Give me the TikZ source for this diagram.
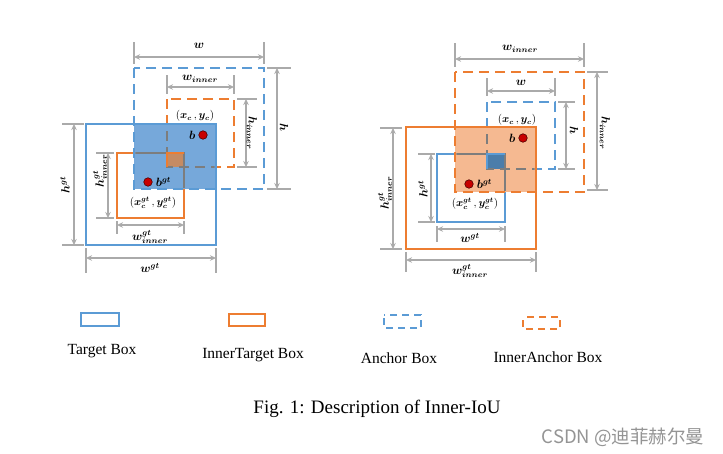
\documentclass[tikz,border=0pt]{standalone}
\usepackage{fontspec}
\setmainfont{Liberation Serif}
\newfontfamily\cjk{Noto Sans CJK SC}
\usepackage{bm}
\usetikzlibrary{arrows.meta,positioning}

\definecolor{boxblue}{RGB}{91,155,213}
\definecolor{boxorange}{RGB}{237,125,49}
\definecolor{dimgray}{RGB}{170,170,170}
\definecolor{linegray}{RGB}{125,125,125}
\definecolor{blueshade}{RGB}{118,168,218}
\definecolor{orangeshade}{RGB}{245,185,145}
\definecolor{smallorange}{RGB}{197,139,99}
\definecolor{smallblue}{RGB}{75,125,170}
\definecolor{dotred}{RGB}{200,0,0}

\begin{document}
\begin{tikzpicture}[
		x=1pt, y=-1pt,
		target/.style={draw=boxblue, line width=2.5pt},
		anchorbox/.style={draw=boxblue, line width=2.5pt, dash pattern=on 10pt off 6pt},
		innertarget/.style={draw=boxorange, line width=2.5pt},
		inneranchor/.style={draw=boxorange, line width=2.5pt, dash pattern=on 10pt off 6pt},
		tick/.style={draw=dimgray, line width=2.8pt},
		dim/.style={draw=dimgray, line width=1.6pt, {Stealth[length=6pt,width=5.5pt]}-{Stealth[length=6pt,width=5.5pt]}},
		lbl/.style={font=\fontsize{11.5}{13}\selectfont, inner sep=0pt},
		ctr/.style={font=\fontsize{10.5}{12}\selectfont, inner sep=0pt},
		dot/.style={circle, fill=dotred, draw=black!60!dotred, line width=0.6pt, minimum size=8.5pt, inner sep=0pt},
		legend/.style={font=\fontsize{15.5}{18}\selectfont, inner sep=0pt}
	]
	\useasboundingbox (0,0) rectangle (723,453);

	% Left: boxes
	\draw[innertarget] (117,153) rectangle (184,218);
	\draw[inneranchor] (167,99) rectangle (234,167);
	\fill[blueshade] (134,124) rectangle (216,189);
	\fill[smallorange] (167,153) rectangle (184,167);
	\draw[target] (86,124) rectangle (216,245);
	\draw[anchorbox] (134,68) rectangle (264,189);
	\begin{scope}
		\clip (135.3,125.3) rectangle (214.7,187.7);
		\draw[innertarget, draw=linegray] (117,153) rectangle (184,218);
		\draw[inneranchor, draw=linegray] (167,99) rectangle (234,167);
	\end{scope}
	\draw[innertarget] (167,167) -- (167,153) -- (184,153);

	% Right: boxes
	\draw[target] (437,154) rectangle (505,222);
	\draw[anchorbox] (487,102) rectangle (555,169);
	\fill[orangeshade] (455,127) rectangle (536,192);
	\fill[smallblue] (487,154) rectangle (505,169);
	\draw[innertarget] (406,127) rectangle (536,249);
	\draw[inneranchor] (455,72) rectangle (584,192);
	\begin{scope}
		\clip (456.3,128.3) rectangle (534.7,190.7);
		\draw[target, draw=linegray] (437,154) rectangle (505,222);
		\draw[anchorbox, draw=linegray] (487,102) rectangle (555,169);
	\end{scope}
	\draw[target] (487,169) -- (487,154) -- (505,154);

	% Left: dimensions
	\coordinate (wA) at (134,57); \coordinate (wB) at (264,57);
	\coordinate (wiA) at (167,87); \coordinate (wiB) at (234,87);
	\coordinate (hA) at (277,68); \coordinate (hB) at (277,189);
	\coordinate (hiA) at (246,99); \coordinate (hiB) at (246,167);
	\coordinate (hgA) at (74,124); \coordinate (hgB) at (74,245);
	\coordinate (hgiA) at (108,153); \coordinate (hgiB) at (108,218);
	\coordinate (wgiA) at (117,225); \coordinate (wgiB) at (184,225);
	\coordinate (wgA) at (86,258); \coordinate (wgB) at (216,258);
	\draw[tick] (134,42) -- (134,64) (264,42) -- (264,64);
	\draw[tick] (167,75) -- (167,94) (234,75) -- (234,94);
	\draw[tick] (267,68) -- (291,68) (267,189) -- (291,189);
	\draw[tick] (237,99) -- (257,99) (237,167) -- (257,167);
	\draw[tick] (62,124) -- (84,124) (62,245) -- (84,245);
	\draw[tick] (96,153) -- (114,153) (96,218) -- (114,218);
	\draw[tick] (117,221) -- (117,234) (184,221) -- (184,234);
	\draw[tick] (86,248) -- (86,273) (216,248) -- (216,273);
	\draw[dim] (wA) -- (wB);
	\draw[dim] (wiA) -- (wiB);
	\draw[dim] (hA) -- (hB);
	\draw[dim] (hiA) -- (hiB);
	\draw[dim] (hgA) -- (hgB);
	\draw[dim] (hgiA) -- (hgiB);
	\draw[dim] (wgiA) -- (wgiB);
	\draw[dim] (wgA) -- (wgB);

	% Right: dimensions
	\coordinate (rwiA) at (455,59); \coordinate (rwiB) at (584,59);
	\coordinate (rwA) at (487,91); \coordinate (rwB) at (555,91);
	\coordinate (rhA) at (566,102); \coordinate (rhB) at (566,169);
	\coordinate (rhiA) at (597,72); \coordinate (rhiB) at (597,190);
	\coordinate (rhgiA) at (393,128); \coordinate (rhgiB) at (393,249);
	\coordinate (rhgA) at (431,154); \coordinate (rhgB) at (431,222);
	\coordinate (rwgA) at (437,229); \coordinate (rwgB) at (505,229);
	\coordinate (rwgiA) at (406,260); \coordinate (rwgiB) at (536,260);
	\draw[tick] (455,43) -- (455,67) (584,43) -- (584,67);
	\draw[tick] (487,78) -- (487,96) (555,78) -- (555,96);
	\draw[tick] (558,102) -- (575,102) (558,169) -- (575,169);
	\draw[tick] (587,72) -- (608,72) (587,190) -- (608,190);
	\draw[tick] (380,128) -- (402,128) (380,249) -- (402,249);
	\draw[tick] (418,154) -- (435,154) (418,222) -- (435,222);
	\draw[tick] (437,226) -- (437,242) (505,226) -- (505,242);
	\draw[tick] (406,252) -- (406,272) (536,252) -- (536,272);
	\draw[dim] (rwiA) -- (rwiB);
	\draw[dim] (rwA) -- (rwB);
	\draw[dim] (rhA) -- (rhB);
	\draw[dim] (rhiA) -- (rhiB);
	\draw[dim] (rhgiA) -- (rhgiB);
	\draw[dim] (rhgA) -- (rhgB);
	\draw[dim] (rwgA) -- (rwgB);
	\draw[dim] (rwgiA) -- (rwgiB);

	% Left: labels
	\node[lbl] (lw) at (199,46) {$\bm{w}$};
	\node[lbl] (lwi) at (200,79) {$\bm{w}_{\bm{inner}}$};
	\node[lbl, rotate=-90] (lh) at (284,128) {$\bm{h}$};
	\node[lbl, rotate=-90] (lhi) at (252,133) {$\bm{h}_{\bm{inner}}$};
	\node[lbl, rotate=90] (lhg) at (65,185) {$\bm{h}^{\bm{gt}}$};
	\node[lbl, rotate=90] (lhgi) at (100,171) {$\bm{h}^{\bm{gt}}_{\bm{inner}}$};
	\node[lbl] (lwgi) at (150,237) {$\bm{w}^{\bm{gt}}_{\bm{inner}}$};
	\node[lbl] (lwg) at (150,268) {$\bm{w}^{\bm{gt}}$};
	\node[ctr] (lc) at (195,116) {$(\bm{x_c}\,,\bm{y_c})$};
	\node[dot] (lb) at (203,135) {};
	\node[lbl, left=3pt of lb] (lbt) {$\bm{b}$};
	\node[dot] (lbg) at (148,182) {};
	\node[lbl, right=3pt of lbg] (lbgt) {$\bm{b}^{\bm{gt}}$};
	\node[ctr] (lcg) at (153,203) {$(\bm{x}^{\bm{gt}}_{\bm{c}}\,,\bm{y}^{\bm{gt}}_{\bm{c}})$};

	% Right: labels
	\node[lbl] (rwi) at (520,49) {$\bm{w}_{\bm{inner}}$};
	\node[lbl] (rw) at (521,83) {$\bm{w}$};
	\node[lbl, rotate=-90] (rh) at (574,131) {$\bm{h}$};
	\node[lbl, rotate=-90] (rhi) at (605,133) {$\bm{h}_{\bm{inner}}$};
	\node[lbl, rotate=90] (rhgi) at (385,193) {$\bm{h}^{\bm{gt}}_{\bm{inner}}$};
	\node[lbl, rotate=90] (rhg) at (423,189) {$\bm{h}^{\bm{gt}}$};
	\node[lbl] (rwg) at (470,238) {$\bm{w}^{\bm{gt}}$};
	\node[lbl] (rwgi) at (470,271) {$\bm{w}^{\bm{gt}}_{\bm{inner}}$};
	\node[ctr] (rc) at (517,120) {$(\bm{x_c}\,,\bm{y_c})$};
	\node[dot] (rb) at (523,138) {};
	\node[lbl, left=3pt of rb] (rbt) {$\bm{b}$};
	\node[dot] (rbg) at (469,184) {};
	\node[lbl, right=3pt of rbg] (rbgt) {$\bm{b}^{\bm{gt}}$};
	\node[ctr] (rcg) at (475,204) {$(\bm{x}^{\bm{gt}}_{\bm{c}}\,,\bm{y}^{\bm{gt}}_{\bm{c}})$};

	% Legend
	\draw[target, line width=2.2pt] (81,313) rectangle (119,326);
	\draw[innertarget, line width=2.2pt] (229,314) rectangle (265,326);
	\draw[anchorbox, line width=2.2pt, dash pattern=on 7pt off 5pt, dash phase=-3pt] (384,315) rectangle (421,328);
	\draw[inneranchor, line width=2.2pt, dash pattern=on 7pt off 5pt, dash phase=-3pt] (523,317) rectangle (560,329);
	\node[legend] (tgt) at (102,351) {Target Box};
	\node[legend] (itgt) at (253,355) {InnerTarget Box};
	\node[legend] (anc) at (399,358) {Anchor Box};
	\node[legend] (ianc) at (548,357) {InnerAnchor Box};

	% Caption
	\node[font=\fontsize{19}{22}\selectfont, inner sep=0pt] (cap) at (377,409) {Fig. 1: Description of Inner-IoU};
	\node[font=\cjk\fontsize{18.5}{21}\selectfont, text=black!42, inner sep=0pt] (mark) at (623,437) {CSDN @迪菲赫尔曼};
\end{tikzpicture}
\end{document}
